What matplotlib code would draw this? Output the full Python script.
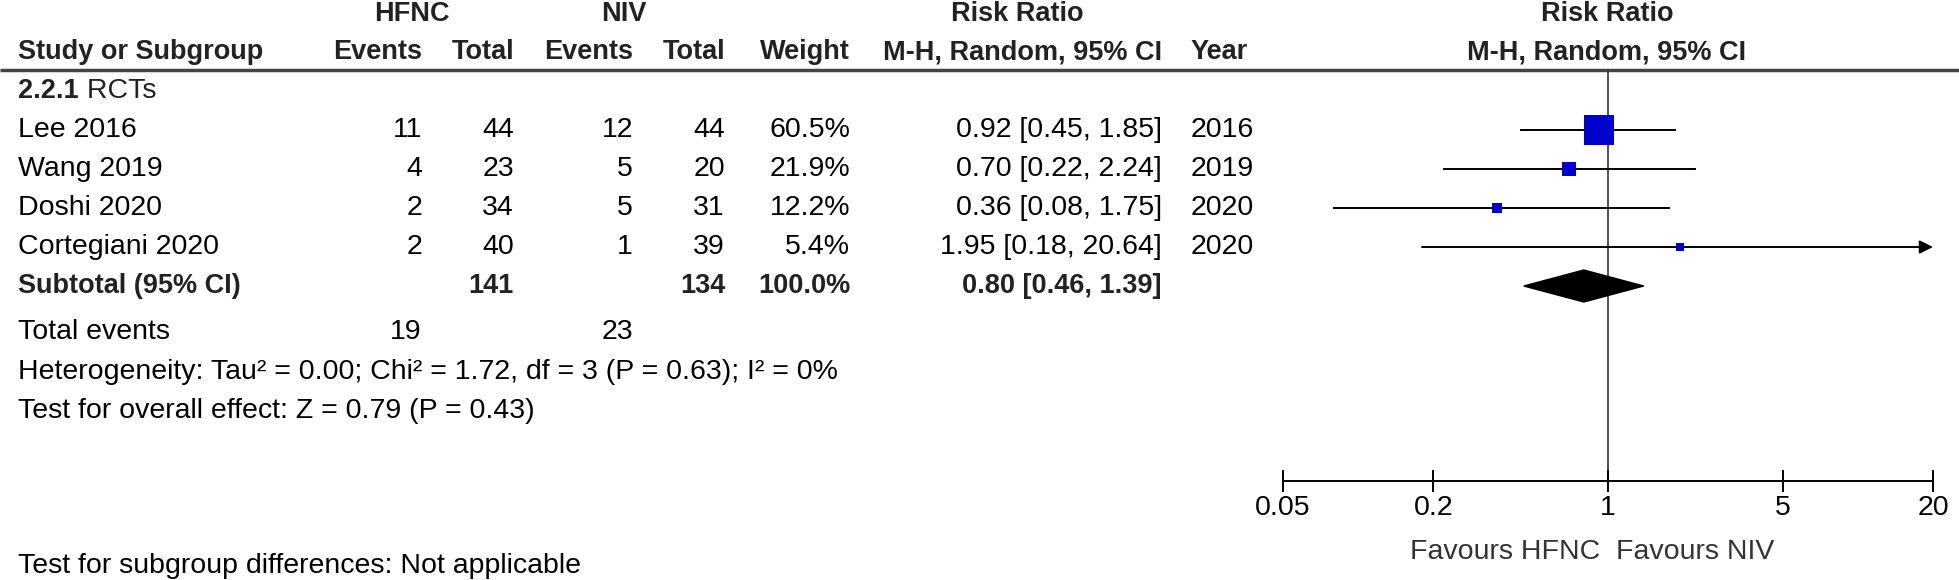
import numpy as np
import matplotlib
matplotlib.use("Agg")
import matplotlib.pyplot as plt
from matplotlib.patches import Polygon

plt.rcParams['font.family'] = ['Liberation Sans', 'DejaVu Sans']

# data
studies = ['Lee 2016', 'Wang 2019', 'Doshi 2020', 'Cortegiani 2020']
hfnc_events = [11, 4, 2, 2]
hfnc_total = [44, 23, 34, 40]
niv_events = [12, 5, 5, 1]
niv_total = [44, 20, 31, 39]
weights = [60.5, 21.9, 12.2, 5.4]
rr = [0.92, 0.70, 0.36, 1.95]
ci_low = [0.45, 0.22, 0.08, 0.18]
ci_high = [1.85, 2.24, 1.75, 20.64]
years = [2016, 2019, 2020, 2020]

sub_rr = 0.80
sub_low = 0.46
sub_high = 1.39
sub_hfnc_total = 141
sub_niv_total = 134
tot_hfnc_events = 19
tot_niv_events = 23

ticks = [0.05, 0.2, 1, 5, 20]
tick_labels = ['0.05', '0.2', '1', '5', '20']

W, H = 1959, 580
fs = 20.5      # regular text
fb = 19.5      # bold headers
dark = '#222222'
blue = '#0000cc'

fig = plt.figure(figsize=(W / 100, H / 100), dpi=100)

# table axes in pixel coords
ax = fig.add_axes([0, 0, 1, 1])
ax.set_xlim(0, W)
ax.set_ylim(H, 0)
ax.axis('off')

# forest axes, log scale
x_lo, x_hi = 1283, 1933
fx = fig.add_axes([x_lo / W, 0, (x_hi - x_lo) / W, 1])
fx.set_xscale('log')
fx.set_xlim(0.05, 20)
fx.set_ylim(H, 0)
fx.axis('off')

# column positions (right edges)
c_name = 18
c_he, c_ht = 422, 514
c_ne, c_nt = 633, 725
c_w = 850
c_ci = 1162
c_yr = 1191

# headers
ax.text(412, 14, 'HFNC', ha='center', va='center', fontsize=fb, fontweight='bold', color=dark)
ax.text(624, 14, 'NIV', ha='center', va='center', fontsize=fb, fontweight='bold', color=dark)
ax.text(1017, 14, 'Risk Ratio', ha='center', va='center', fontsize=fb, fontweight='bold', color=dark)
ax.text(1607, 14, 'Risk Ratio', ha='center', va='center', fontsize=fb, fontweight='bold', color=dark)

hy = 52
ax.text(c_name, hy, 'Study or Subgroup', ha='left', va='center', fontsize=fb, fontweight='bold', color=dark)
for xr, lab in [(c_he, 'Events'), (c_ht, 'Total'), (c_ne, 'Events'), (c_nt, 'Total'),
                (c_w, 'Weight'), (c_ci, 'M-H, Random, 95% CI')]:
    ax.text(xr, hy, lab, ha='right', va='center', fontsize=fb, fontweight='bold', color=dark)
ax.text(c_yr, hy, 'Year', ha='left', va='center', fontsize=fb, fontweight='bold', color=dark)
ax.text(1607, hy, 'M-H, Random, 95% CI', ha='center', va='center', fontsize=fb, fontweight='bold', color=dark)

# header rule
ax.plot([0, W], [70, 70], color='#444444', lw=2.5, solid_capstyle='butt')

# subgroup title
t = ax.text(c_name, 91, '2.2.1', ha='left', va='center', fontsize=fb, fontweight='bold', color=dark)
ax.annotate(' RCTs', xycoords=t, xy=(1, 0.5), va='center', ha='left', fontsize=fs, color=dark)

# forest vertical line
fx.plot([1, 1], [70, 481], color='#333333', lw=1.2)

row0, row_h = 130, 39
for i in range(len(studies)):
    y = row0 + i * row_h
    ax.text(c_name, y, studies[i], ha='left', va='center', fontsize=fs, color='black')
    ax.text(c_he, y, str(hfnc_events[i]), ha='right', va='center', fontsize=fs)
    ax.text(c_ht, y, str(hfnc_total[i]), ha='right', va='center', fontsize=fs)
    ax.text(c_ne, y, str(niv_events[i]), ha='right', va='center', fontsize=fs)
    ax.text(c_nt, y, str(niv_total[i]), ha='right', va='center', fontsize=fs)
    ax.text(c_w, y, '%.1f%%' % weights[i], ha='right', va='center', fontsize=fs)
    ax.text(c_ci, y, '%.2f [%.2f, %.2f]' % (rr[i], ci_low[i], ci_high[i]), ha='right', va='center', fontsize=fs)
    ax.text(c_yr, y, str(years[i]), ha='left', va='center', fontsize=fs)

    # CI line (arrow if outside the scale)
    if ci_high[i] > 20:
        fx.annotate('', xy=(20, y), xytext=(ci_low[i], y),
                    arrowprops=dict(arrowstyle='-|>', color='black', lw=1.4, mutation_scale=20,
                                    shrinkA=0, shrinkB=0), annotation_clip=False)
    else:
        fx.plot([ci_low[i], ci_high[i]], [y, y], color='black', lw=1.4)
    side = 5 + 0.4 * weights[i]   # square size in px grows with weight
    fx.scatter([rr[i]], [y], marker='s', s=(side * 0.72) ** 2, color=blue, zorder=3, linewidths=0)

# subtotal
sy = row0 + len(studies) * row_h
ax.text(c_name, sy, 'Subtotal (95% CI)', ha='left', va='center', fontsize=fb, fontweight='bold', color=dark)
ax.text(c_ht, sy, str(sub_hfnc_total), ha='right', va='center', fontsize=fb, fontweight='bold', color=dark)
ax.text(c_nt, sy, str(sub_niv_total), ha='right', va='center', fontsize=fb, fontweight='bold', color=dark)
ax.text(c_w, sy, '100.0%', ha='right', va='center', fontsize=fb, fontweight='bold', color=dark)
ax.text(c_ci, sy, '%.2f [%.2f, %.2f]' % (sub_rr, sub_low, sub_high), ha='right', va='center',
        fontsize=fb, fontweight='bold', color=dark)

# diamond, built in axes data coords
dh = 16
diamond = Polygon([(sub_low, sy), (sub_rr, sy - dh), (sub_high, sy), (sub_rr, sy + dh)],
                  closed=True, facecolor='black', edgecolor='black', zorder=3)
fx.add_patch(diamond)

# totals and tests
ax.text(c_name, 332, 'Total events', ha='left', va='center', fontsize=fs)
ax.text(c_he, 332, str(tot_hfnc_events), ha='right', va='center', fontsize=fs)
ax.text(c_ne, 332, str(tot_niv_events), ha='right', va='center', fontsize=fs)
ax.text(c_name, 372, 'Heterogeneity: Tau\u00b2 = 0.00; Chi\u00b2 = 1.72, df = 3 (P = 0.63); I\u00b2 = 0%',
        ha='left', va='center', fontsize=fs)
ax.text(c_name, 411, 'Test for overall effect: Z = 0.79 (P = 0.43)', ha='left', va='center', fontsize=fs)
ax.text(c_name, 566, 'Test for subgroup differences: Not applicable', ha='left', va='center', fontsize=fs)

# x axis of the forest
ay = 481
fx.plot([0.05, 20], [ay, ay], color='black', lw=1.4, clip_on=False)
for tv, tl in zip(ticks, tick_labels):
    fx.plot([tv, tv], [ay - 10, ay + 10], color='black', lw=1.4, clip_on=False)
    fx.text(tv, 508, tl, ha='center', va='center', fontsize=fs, clip_on=False)

fx.text(0.93, 552, 'Favours HFNC', ha='right', va='center', fontsize=fs, color='#333333')
fx.text(1.08, 552, 'Favours NIV', ha='left', va='center', fontsize=fs, color='#333333')

fig.savefig('out.png', dpi=100, facecolor='white')
